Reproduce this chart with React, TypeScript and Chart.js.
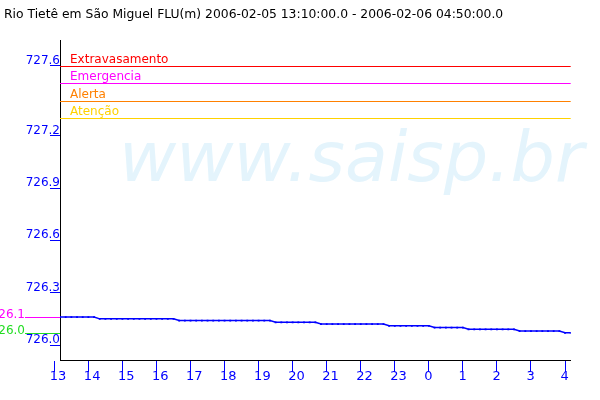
import React, { useEffect, useRef } from "react";
import { Chart, registerables } from "chart.js";

Chart.register(...registerables);

const TITLE =
  "Rio Tietê em São Miguel FLU(m) 2006-02-05 13:10:00.0 - 2006-02-06 04:50:00.0";
const WATERMARK = "www.saisp.br";

// x is measured in hours after 13:00 of 2006-02-05
const X_MIN = 10 / 60; // 13:10
const X_MAX = 15 + 10 / 60; // 04:10
const SAMPLE_STEP_H = 10 / 60; // one reading every 10 minutes

// river level (m), one value per 10-minute reading starting at 13:10
const levels: number[] = [
  726.16, 726.16, 726.16, 726.16, 726.16, 726.16, 726.16,
  726.15, 726.15, 726.15, 726.15, 726.15, 726.15, 726.15, 726.15, 726.15, 726.15, 726.15, 726.15, 726.15, 726.15,
  726.14, 726.14, 726.14, 726.14, 726.14, 726.14, 726.14, 726.14, 726.14, 726.14, 726.14, 726.14, 726.14, 726.14, 726.14, 726.14, 726.14,
  726.13, 726.13, 726.13, 726.13, 726.13, 726.13, 726.13, 726.13,
  726.12, 726.12, 726.12, 726.12, 726.12, 726.12, 726.12, 726.12, 726.12, 726.12, 726.12, 726.12,
  726.11, 726.11, 726.11, 726.11, 726.11, 726.11, 726.11, 726.11,
  726.1, 726.1, 726.1, 726.1, 726.1, 726.1,
  726.09, 726.09, 726.09, 726.09, 726.09, 726.09, 726.09, 726.09, 726.09,
  726.08, 726.08, 726.08, 726.08, 726.08, 726.08, 726.08, 726.08,
  726.07, 726.07,
];

const xTickValues = [0, 1, 2, 3, 4, 5, 6, 7, 8, 9, 10, 11, 12, 13, 14, 15];
const xTickLabels = ["13", "14", "15", "16", "17", "18", "19", "20", "21", "22", "23", "0", "1", "2", "3", "4"];
const yTickValues = [726.0, 726.3, 726.6, 726.9, 727.2, 727.6];
const Y_MIN = 725.914;
const Y_MAX = 727.749;

const thresholdNames = ["Extravasamento", "Emergencia", "Alerta", "Atenção"];
const thresholdValues = [727.6, 727.5, 727.4, 727.3];
const thresholdColors = ["#ff0000", "#ff00ff", "#ff8000", "#ffd200"];

const BLUE = "#0000ff";
const FONT = "'DejaVu Sans', sans-serif";

const overlayPlugin = {
  id: "overlay",
  beforeDatasetsDraw(chart: any) {
    const { ctx, chartArea, scales } = chart;
    const y = scales.y;
    ctx.save();
    // watermark
    ctx.fillStyle = "#e4f4fc";
    ctx.font = `italic 70px ${FONT}`;
    ctx.textAlign = "left";
    ctx.textBaseline = "alphabetic";
    ctx.fillText(WATERMARK, 119, 181);
    // thresholds
    ctx.font = `12px ${FONT}`;
    thresholdValues.forEach((v, i) => {
      const py = Math.round(y.getPixelForValue(v)) + 0.5;
      ctx.strokeStyle = thresholdColors[i];
      ctx.lineWidth = 1;
      ctx.beginPath();
      ctx.moveTo(chartArea.left, py);
      ctx.lineTo(chartArea.right, py);
      ctx.stroke();
      ctx.fillStyle = thresholdColors[i];
      ctx.fillText(thresholdNames[i], 70, py - 4);
    });
    ctx.restore();
  },
  afterDraw(chart: any) {
    const { ctx, chartArea, scales } = chart;
    const y = scales.y;
    ctx.save();
    // title
    ctx.fillStyle = "#000000";
    ctx.font = `12.35px ${FONT}`;
    ctx.textAlign = "left";
    ctx.textBaseline = "alphabetic";
    ctx.fillText(TITLE, 4, 18);
    // max / min markers
    const maxV = Math.max(...levels);
    const minV = Math.min(...levels);
    const marks = [
      { v: maxV, c: "#ff00ff" },
      { v: minV, c: "#22dd22" },
    ];
    ctx.font = `12px ${FONT}`;
    ctx.textAlign = "right";
    marks.forEach((m) => {
      const py = Math.round(y.getPixelForValue(m.v)) + 0.5;
      ctx.strokeStyle = m.c;
      ctx.lineWidth = 1;
      ctx.beginPath();
      ctx.moveTo(25, py);
      ctx.lineTo(chartArea.left, py);
      ctx.stroke();
      ctx.fillStyle = m.c;
      ctx.fillText((Math.floor(m.v * 10) / 10).toFixed(1), 25, py);
    });
    ctx.restore();
  },
};

export default function App() {
  const ref = useRef<HTMLCanvasElement | null>(null);

  useEffect(() => {
    document.body.style.margin = "0";
    const canvas = ref.current;
    if (!canvas) return;
    const points = levels.map((v, i) => ({ x: X_MIN + i * SAMPLE_STEP_H, y: v }));
    const chart = new Chart(canvas, {
      type: "line",
      data: {
        datasets: [
          {
            data: points,
            borderColor: BLUE,
            backgroundColor: BLUE,
            borderWidth: 1.5,
            pointStyle: "rect",
            pointRadius: 1.3,
            pointBorderWidth: 0,
            pointBackgroundColor: BLUE,
            tension: 0,
            fill: false,
          },
        ],
      },
      options: {
        animation: false,
        responsive: false,
        devicePixelRatio: 1,
        layout: { padding: { top: 40, right: 29.3, left: 0, bottom: 0 } },
        plugins: {
          legend: { display: false },
          title: { display: false },
          tooltip: { enabled: false },
        },
        scales: {
          x: {
            type: "linear",
            min: X_MIN,
            max: X_MAX,
            afterBuildTicks: (scale: any) => {
              scale.ticks = xTickValues.map((v) => ({ value: v }));
            },
            afterFit: (scale: any) => {
              scale.height = 40;
            },
            border: { color: "#000000", width: 1 },
            grid: {
              drawOnChartArea: false,
              drawTicks: true,
              tickLength: 12,
              tickColor: BLUE,
              color: BLUE,
            },
            ticks: {
              autoSkip: false,
              maxRotation: 0,
              align: "start",
              labelOffset: -4.5,
              padding: -3,
              color: BLUE,
              font: { family: FONT, size: 13 },
              callback: (value: any) => {
                const idx = xTickValues.indexOf(Number(value));
                return idx >= 0 ? xTickLabels[idx] : "";
              },
            },
          },
          y: {
            type: "linear",
            min: Y_MIN,
            max: Y_MAX,
            afterBuildTicks: (scale: any) => {
              scale.ticks = yTickValues.map((v) => ({ value: v }));
            },
            afterFit: (scale: any) => {
              scale.width = 60;
            },
            border: { color: "#000000", width: 1 },
            grid: {
              drawOnChartArea: false,
              drawTicks: true,
              tickLength: 10,
              tickColor: BLUE,
              color: BLUE,
            },
            ticks: {
              autoSkip: false,
              padding: -10,
              labelOffset: -5,
              color: BLUE,
              font: { family: FONT, size: 12 },
              callback: (value: any) => Number(value).toFixed(1),
            },
          },
        },
      },
      plugins: [overlayPlugin],
    });
    return () => chart.destroy();
  }, []);

  return (
    <canvas
      ref={ref}
      width={600}
      height={400}
      style={{ display: "block", width: 600, height: 400 }}
    />
  );
}
